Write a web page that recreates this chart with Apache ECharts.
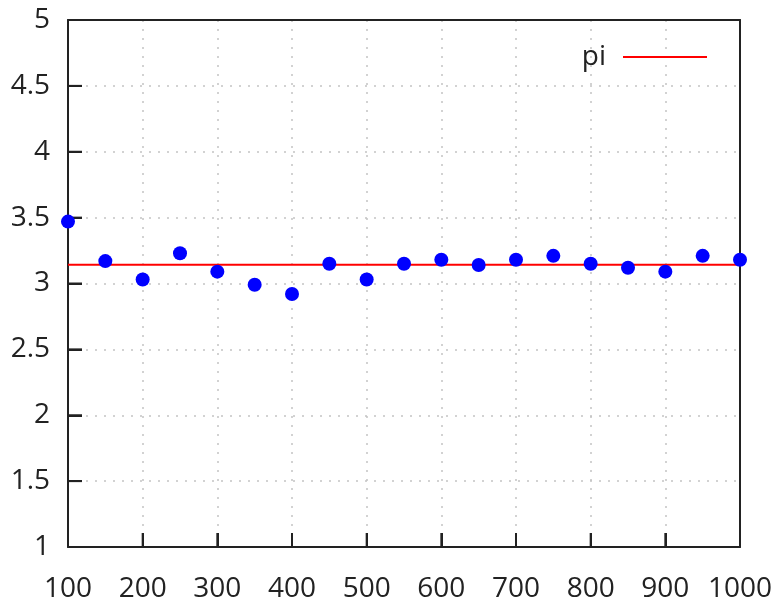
<!DOCTYPE html>
<html>
<head>
<meta charset="utf-8">
<script src="https://cdn.jsdelivr.net/npm/echarts@6/dist/echarts.min.js"></script>
<style>
  html, body { margin: 0; padding: 0; background: #fff; }
  #chart { width: 779px; height: 610px; }
</style>
</head>
<body>
<div id="chart"></div>
<script>
// sample sizes and the pi estimates
const sampleSizes = [100, 150, 200, 250, 300, 350, 400, 450, 500, 550,
  600, 650, 700, 750, 800, 850, 900, 950, 1000];
const estimates = [3.47, 3.17, 3.03, 3.23, 3.09, 2.99, 2.92, 3.15, 3.03, 3.15,
  3.18, 3.14, 3.18, 3.21, 3.15, 3.12, 3.09, 3.21, 3.18];
const piLine = [[100, Math.PI], [1000, Math.PI]];

// inner tick marks (gnuplot style, left and bottom only)
const xTicks = [200, 300, 400, 500, 600, 700, 800, 900];
const yTicks = [1.5, 2, 2.5, 3, 3.5, 4, 4.5];
const xMin = 100, xMax = 1000, yMin = 1, yMax = 5;

const labelFont = {fontFamily: 'Open Sans', fontSize: 28, color: '#222'};

function frameLine() {
  return {show: true, onZero: false, lineStyle: {color: '#222', width: 2}};
}
function tickStyle() {
  return {show: true, inside: true, length: 14, lineStyle: {color: '#222', width: 2}};
}
function gridDots() {
  return {show: true, lineStyle: {color: '#c4c4c4', type: [2, 7], width: 1.5}};
}

let tickData = xTicks.map(v => [v, 0]).concat(yTicks.map(v => [v, 1]));

function renderTick(params, api) {
  let v = api.value(0);
  let p, q;
  if (api.value(1) === 0) {
    p = api.coord([v, yMin]);
    q = [p[0], p[1] - 14];
  } else {
    p = api.coord([xMin, v]);
    q = [p[0] + 14, p[1]];
  }
  return {
    type: 'line',
    shape: {x1: p[0], y1: p[1], x2: q[0], y2: q[1]},
    style: {stroke: '#222', lineWidth: 2}
  };
}

let chart = echarts.init(document.getElementById('chart'));

chart.setOption({
  backgroundColor: '#fff',
  animation: false,
  grid: {left: 68, right: 39, top: 20, bottom: 63},
  legend: {
    right: 67, top: 38,
    align: 'right',
    itemWidth: 84, itemHeight: 2, itemGap: 0,
    textStyle: {fontFamily: 'Open Sans', fontSize: 28, color: '#222',
      padding: [0, 12, 0, 0]},
    data: [{name: 'pi', icon: 'rect'}]
  },
  xAxis: [
    {
      type: 'value', min: xMin, max: xMax, interval: 100,
      axisLine: frameLine(),
      axisTick: tickStyle(),
      axisLabel: Object.assign({margin: 28, formatter: v => String(v)}, labelFont),
      splitLine: gridDots()
    },
    {
      type: 'value', position: 'top', min: xMin, max: xMax, interval: 100,
      axisLine: frameLine(), axisTick: {show: false}, axisLabel: {show: false},
      splitLine: {show: false}
    }
  ],
  yAxis: [
    {
      type: 'value', min: yMin, max: yMax, interval: 0.5,
      axisLine: frameLine(),
      axisTick: tickStyle(),
      axisLabel: Object.assign({margin: 18}, labelFont),
      splitLine: gridDots()
    },
    {
      type: 'value', position: 'right', min: yMin, max: yMax, interval: 0.5,
      axisLine: frameLine(), axisTick: {show: false}, axisLabel: {show: false},
      splitLine: {show: false}
    }
  ],
  series: [
    {
      name: 'ticks',
      type: 'custom',
      renderItem: renderTick,
      data: tickData,
      silent: true,
      z: 1
    },
    {
      name: 'estimate',
      type: 'scatter',
      symbolSize: 14,
      itemStyle: {color: '#0000ff', opacity: 1},
      data: sampleSizes.map((n, i) => [n, estimates[i]]),
      z: 3
    },
    {
      name: 'pi',
      type: 'line',
      symbol: 'none',
      itemStyle: {color: '#ff0000'},
      lineStyle: {color: '#ff0000', width: 2},
      data: piLine,
      z: 2
    }
  ]
});
</script>
</body>
</html>
